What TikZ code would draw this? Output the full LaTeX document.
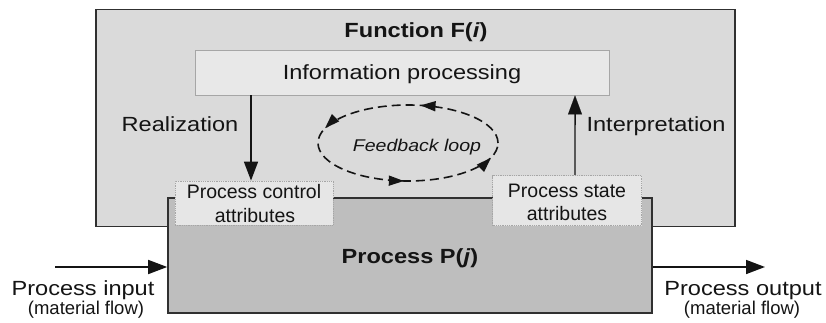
\documentclass[tikz,border=0pt]{standalone}
\usepackage{fontspec}
\setmainfont{Liberation Sans}[FakeStretch=1.15]
\newfontfamily\plainsans{Liberation Sans}
\usetikzlibrary{arrows.meta,decorations.markings}

\definecolor{funcfill}{HTML}{DADADA}
\definecolor{procfill}{HTML}{BEBEBE}
\definecolor{infofill}{HTML}{E8E8E8}
\definecolor{attrfill}{HTML}{E6E6E6}
\definecolor{edge}{HTML}{303030}
\definecolor{ink}{HTML}{141414}

\tikzset{
  bigbox/.style={draw=edge, line width=1.6pt, inner sep=0pt},
  infobox/.style={draw=gray!70, line width=0.8pt, fill=infofill, inner sep=0pt},
  attrbox/.style={draw=gray!70, line width=0.8pt, densely dotted, fill=attrfill, inner sep=0pt},
  lbl/.style={anchor=base, text=ink, inner sep=0pt, font=\fontsize{20.5}{24}\selectfont},
  headlbl/.style={lbl, font=\fontsize{20.5}{24}\selectfont\bfseries},
  attrlbl/.style={anchor=base, text=ink, inner sep=0pt, font=\plainsans\fontsize{19.5}{22}\selectfont},
  smalllbl/.style={anchor=base, text=ink, inner sep=0pt, font=\plainsans\fontsize{18.5}{22}\selectfont},
  bighead/.tip={Triangle[length=19pt,width=14pt]},
  flow/.style={line width=1.6pt, draw=ink, -bighead},
  loophead/.tip={Triangle[length=15pt,width=10pt]},
  loopline/.style={line width=1.6pt, dash pattern=on 9pt off 5pt, draw=ink}
}

\begin{document}
\begin{tikzpicture}[x=1pt,y=-1pt]
\useasboundingbox (0,0) rectangle (826,323);

% Function box and the process block that sits across its lower edge
\node[bigbox, fill=funcfill, minimum width=639pt, minimum height=217pt] (func) at (415.5,118) {};
\node[bigbox, fill=procfill, minimum width=484pt, minimum height=115pt] (proc) at (410,255.5) {};

% Inner boxes
\node[infobox, minimum width=414pt, minimum height=45pt] (info) at (402,72.5) {};
\node[attrbox, minimum width=158pt, minimum height=44pt] (ctrl) at (254,203) {};
\node[attrbox, minimum width=149pt, minimum height=50pt] (state) at (567,200.5) {};

% Box titles
\node[headlbl] (ftitle) at (416,38) {Function F(\textit{i})};
\node[headlbl] (ptitle) at (410,263) {Process P(\textit{j})};
\node[lbl] (infotxt) at (402,80) {Information processing};
\node[attrlbl] (ctrl1) at (254,198) {Process control};
\node[attrlbl] (ctrl2) at (255,222) {attributes};
\node[attrlbl] (state1) at (567,197) {Process state};
\node[attrlbl] (state2) at (567,220) {attributes};

% Realization link (black) and interpretation link (grey shaft, black head)
\draw[flow] ([xshift=-3pt]ctrl.north |- info.south) -- ([xshift=-3pt]ctrl.north);
\draw[line width=2.6pt, draw=gray!70!black, shorten >=14pt]
  ([xshift=8pt]state.north) -- ([xshift=8pt]state.north |- info.south);
\draw[line width=0.1pt, draw=ink, fill=ink, -bighead]
  ([xshift=8pt,yshift=-30pt]state.north |- info.south) -- ([xshift=8pt]state.north |- info.south);
\node[lbl] (realiz) at (180,132) {Realization};
\node[lbl] (interp) at (656,132) {Interpretation};

% Feedback loop
\coordinate (fbc) at (408,143);
\draw[loopline, postaction={decorate}, decoration={markings,
    mark=at position 0.22 with {\arrow{loophead}},
    mark=at position 0.46 with {\arrow{loophead}},
    mark=at position 0.74 with {\arrow{loophead}},
    mark=at position 0.96 with {\arrow{loophead}}}]
  ([xshift=90pt]fbc) arc[start angle=0, end angle=360, x radius=90pt, y radius=38pt];
\node[anchor=base, text=ink, inner sep=0pt, font=\fontsize{17}{20}\selectfont\itshape] (fbtxt) at (417,152) {Feedback loop};

% Material flow in and out
\coordinate (inStart) at (55,267);
\coordinate (outEnd) at (765,267);
\draw[flow] (inStart) -- (proc.west |- inStart);
\draw[flow] (proc.east |- outEnd) -- (outEnd);
\node[lbl] (intxt) at (83,295) {Process input};
\node[smalllbl] (inmat) at (86,314) {(material flow)};
\node[lbl] (outtxt) at (743,295) {Process output};
\node[smalllbl] (outmat) at (742,314) {(material flow)};
\end{tikzpicture}
\end{document}
